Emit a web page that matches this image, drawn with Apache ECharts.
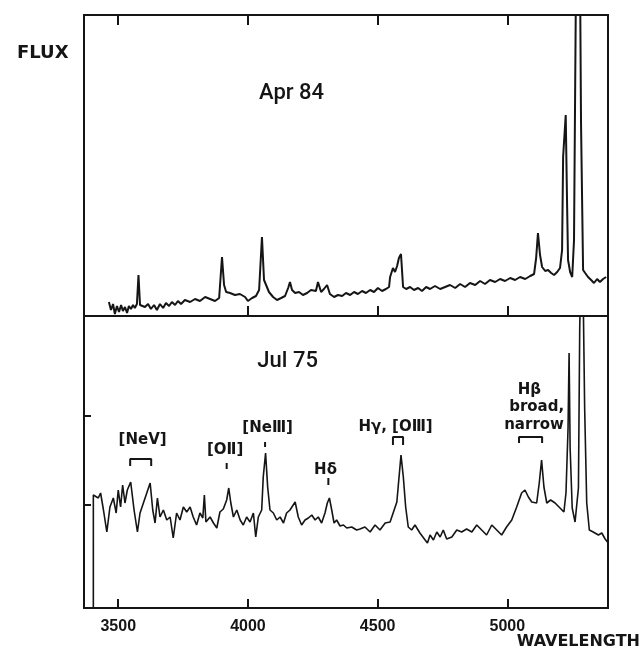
<!DOCTYPE html>
<html>
<head>
<meta charset="utf-8">
<script src="https://cdn.jsdelivr.net/npm/echarts@6/dist/echarts.min.js"></script>
<style>
  html, body { margin: 0; padding: 0; background: #fff; }
  #chart { width: 643px; height: 659px; }
</style>
</head>
<body>
<div id="chart"></div>
<script>
// Spectrum recorded April 1984 (wavelength in Å, relative flux)
const aprWavelength = [
  3464, 3472, 3480, 3487, 3495, 3503, 3511, 3518, 3526, 3534, 3541, 3549, 3557, 3564, 3572, 3578,
  3584, 3591, 3603, 3615, 3626, 3638, 3649, 3661, 3673, 3684, 3696, 3707, 3719, 3730, 3742, 3757,
  3777, 3796, 3815, 3835, 3854, 3873, 3889, 3900, 3908, 3916, 3931, 3950, 3969, 3989, 4000, 4016,
  4031, 4043, 4054, 4062, 4070, 4081, 4097, 4112, 4128, 4143, 4155, 4162, 4170, 4182, 4197, 4212,
  4228, 4243, 4262, 4270, 4282, 4293, 4305, 4316, 4332, 4347, 4363, 4378, 4394, 4409, 4424, 4440,
  4455, 4471, 4486, 4501, 4517, 4532, 4544, 4548, 4559, 4567, 4575, 4582, 4590, 4598, 4610, 4625,
  4640, 4656, 4671, 4687, 4702, 4721, 4741, 4760, 4779, 4799, 4818, 4837, 4856, 4876, 4895, 4914,
  4933, 4953, 4972, 4991, 5011, 5030, 5049, 5069, 5088, 5103, 5111, 5118, 5126, 5134, 5146, 5157,
  5169, 5180, 5192, 5203, 5211, 5215, 5225, 5230, 5234, 5242, 5250, 5257, 5265, 5280, 5284, 5292,
  5300, 5311, 5323, 5334, 5346, 5357, 5369, 5381
];
const aprFlux = [
  1.4, 0.6, 1.2, 0.2, 1.0, 0.4, 1.1, 0.5, 0.9, 0.3, 1.0, 0.7, 1.1, 0.8, 1.2, 4.1,
  1.1, 1.3, 0.9, 1.2, 0.7, 1.1, 0.6, 1.2, 0.8, 1.3, 1.0, 1.4, 1.1, 1.5, 1.2, 1.6,
  1.4, 1.7, 1.5, 1.9, 1.7, 1.5, 1.8, 5.9, 3.1, 2.4, 2.3, 2.1, 2.2, 1.9, 1.5, 1.8,
  2.0, 2.6, 7.9, 3.6, 3.1, 2.4, 1.9, 1.6, 1.8, 2.0, 2.8, 3.4, 2.6, 2.3, 2.4, 2.1,
  2.3, 2.6, 2.5, 3.4, 2.4, 2.7, 3.1, 2.2, 1.9, 2.1, 2.0, 2.3, 2.1, 2.4, 2.2, 2.5,
  2.3, 2.6, 2.4, 2.8, 2.5, 2.7, 2.9, 3.9, 4.8, 4.4, 5.0, 5.8, 6.2, 2.9, 2.7, 2.9,
  2.6, 2.8, 2.5, 2.9, 2.7, 3.0, 2.7, 2.9, 3.1, 2.8, 3.2, 2.9, 3.3, 3.1, 3.5, 3.2,
  3.6, 3.4, 3.7, 3.5, 3.8, 3.6, 3.9, 3.7, 4.0, 4.2, 5.8, 8.3, 6.1, 4.9, 4.5, 4.6,
  4.3, 4.1, 4.4, 4.8, 6.6, 15.9, 20.1, 11.6, 5.6, 4.4, 3.9, 7.6, 35.0, 35.0, 19.3, 4.6,
  4.3, 3.9, 3.6, 3.3, 3.7, 3.4, 3.7, 3.9
];

// Spectrum recorded July 1975
const julWavelength = [
  3404, 3404, 3411, 3423, 3432, 3443, 3456, 3468, 3481, 3492, 3500, 3509, 3517, 3526, 3535, 3548,
  3561, 3574, 3584, 3597, 3610, 3623, 3633, 3642, 3651, 3661, 3674, 3687, 3700, 3712, 3725, 3738,
  3751, 3764, 3777, 3789, 3802, 3815, 3826, 3832, 3838, 3854, 3867, 3880, 3892, 3905, 3918, 3926,
  3934, 3944, 3957, 3970, 3982, 3995, 4008, 4021, 4030, 4040, 4053, 4059, 4068, 4076, 4085, 4098,
  4111, 4124, 4137, 4149, 4162, 4182, 4194, 4207, 4220, 4233, 4246, 4259, 4271, 4284, 4297, 4306,
  4314, 4323, 4332, 4342, 4355, 4368, 4381, 4400, 4419, 4432, 4451, 4471, 4490, 4509, 4529, 4548,
  4561, 4574, 4581, 4590, 4599, 4608, 4618, 4631, 4644, 4663, 4683, 4692, 4702, 4715, 4728, 4741,
  4753, 4766, 4786, 4805, 4824, 4843, 4863, 4882, 4901, 4920, 4940, 4959, 4978, 4997, 5017, 5036,
  5055, 5068, 5081, 5094, 5113, 5123, 5132, 5141, 5152, 5167, 5184, 5203, 5218, 5226, 5234, 5238,
  5242, 5250, 5261, 5267, 5274, 5279, 5282, 5292, 5298, 5306, 5316, 5331, 5351, 5364, 5377, 5389
];
const julFlux = [
  0.0, 11.3, 11.5, 11.0, 11.5, 9.8, 7.6, 10.1, 11.0, 9.5, 11.8, 10.1, 12.3, 10.5, 11.8, 12.6,
  9.8, 7.6, 9.5, 10.5, 11.5, 12.5, 9.8, 8.5, 11.0, 9.1, 9.8, 8.8, 9.1, 7.0, 9.5, 8.8,
  10.1, 9.6, 10.1, 9.1, 8.3, 9.5, 9.0, 11.3, 8.6, 9.1, 8.5, 8.0, 9.6, 9.9, 10.8, 12.0,
  10.5, 9.1, 9.8, 8.8, 8.3, 9.1, 8.6, 9.5, 7.1, 9.1, 9.8, 13.1, 15.5, 12.1, 9.8, 9.5,
  8.8, 9.1, 8.5, 9.5, 9.8, 10.6, 9.1, 8.3, 8.8, 9.0, 9.3, 8.8, 9.1, 8.5, 9.5, 10.5,
  11.0, 9.8, 8.5, 8.8, 8.2, 8.3, 8.0, 8.1, 7.8, 7.9, 8.1, 7.6, 8.3, 7.8, 8.5, 8.6,
  9.6, 10.6, 10.8, 15.3, 13.1, 10.1, 8.1, 7.8, 8.3, 7.5, 6.8, 6.5, 7.3, 6.8, 7.6, 7.1,
  7.8, 6.9, 7.1, 7.8, 7.6, 7.9, 7.6, 8.3, 7.8, 7.3, 8.3, 7.8, 7.3, 8.1, 8.8, 10.1,
  11.5, 11.8, 11.1, 10.6, 10.5, 12.5, 14.8, 12.1, 10.5, 10.8, 10.5, 10.0, 9.6, 11.5, 18.0, 25.5,
  16.0, 10.0, 8.6, 8.5, 12.0, 28.0, 32.0, 32.0, 20.0, 10.5, 7.8, 7.6, 7.3, 7.5, 6.9, 6.5
];

// Axis marks
const tickWavelengths = [3500, 4000, 4500, 5000];
const julFluxMarks = [10.3, 19.2];

// Line identifications on the 1975 spectrum
const lineLabels = [
  { text: '[NeⅤ]', at: [3594, 16.8] },
  { text: '[OⅡ]', at: [3912, 15.8] },
  { text: '[NeⅢ]', at: [4076, 18.0] },
  { text: 'Hδ', at: [4299, 13.8] },
  { text: 'Hγ, [OⅢ]', at: [4569, 18.1] },
  { text: 'Hβ', at: [5085, 21.8] },
  { text: 'broad,', at: [5113, 20.1] },
  { text: 'narrow', at: [5103, 18.3] }
];
const brackets = [
  { from: 3546, to: 3627, top: 14.9, foot: 14.2 },
  { from: 4559, to: 4598, top: 17.1, foot: 16.3 },
  { from: 5045, to: 5134, top: 17.1, foot: 16.5 }
];
const lineMarks = [
  { at: 3918, from: 13.9, to: 14.5 },
  { at: 4066, from: 16.1, to: 16.6 },
  { at: 4310, from: 12.3, to: 13.0 }
];
const epochs = [
  { text: 'Apr 84', panel: 0, at: [4168, 22.3] },
  { text: 'Jul 75', panel: 1, at: [4153, 24.7] }
];

const ink = '#151515';
const zip = (xs, ys) => xs.map((x, i) => [x, ys[i]]);
const chart = echarts.init(document.getElementById('chart'), null, { renderer: 'canvas' });

const xBase = {
  type: 'value', min: 3368, max: 5388,
  splitLine: { show: false }, axisLine: { show: false }, axisLabel: { show: false }
};
const tickStyle = { color: ink, width: 2 };
const hiddenMark = { color: 'rgba(0,0,0,0)', opacity: 1 };

const series = [
  {
    type: 'line', xAxisIndex: 0, yAxisIndex: 0, data: zip(aprWavelength, aprFlux),
    symbol: 'none', clip: true, silent: true, lineStyle: { color: ink, width: 2 }, z: 3
  },
  {
    type: 'line', xAxisIndex: 2, yAxisIndex: 1, data: zip(julWavelength, julFlux),
    symbol: 'none', clip: true, silent: true, lineStyle: { color: ink, width: 1.6 }, z: 3
  }
];
brackets.forEach(b => series.push({
  type: 'line', xAxisIndex: 2, yAxisIndex: 1, symbol: 'none', silent: true,
  data: [[b.from, b.foot], [b.from, b.top], [b.to, b.top], [b.to, b.foot]],
  lineStyle: { color: ink, width: 2 }
}));
lineMarks.forEach(m => series.push({
  type: 'line', xAxisIndex: 2, yAxisIndex: 1, symbol: 'none', silent: true,
  data: [[m.at, m.from], [m.at, m.to]],
  lineStyle: { color: ink, width: 2 }
}));
series.push({
  type: 'scatter', xAxisIndex: 2, yAxisIndex: 1, symbolSize: 1, silent: true,
  itemStyle: hiddenMark,
  data: lineLabels.map(l => ({ value: l.at, name: l.text })),
  label: {
    show: true, position: 'inside', formatter: p => p.name, opacity: 1,
    fontFamily: 'DejaVu Sans', fontWeight: 'bold', fontSize: 15, color: ink
  }
});
epochs.forEach(e => series.push({
  type: 'scatter', xAxisIndex: e.panel === 0 ? 0 : 2, yAxisIndex: e.panel, symbolSize: 1, silent: true,
  itemStyle: hiddenMark,
  data: [{ value: e.at, name: e.text }],
  label: {
    show: true, position: 'inside', formatter: p => p.name, opacity: 1,
    fontFamily: 'Roboto', fontWeight: 500, fontSize: 22, color: ink
  }
}));

chart.setOption({
  animation: false,
  backgroundColor: '#ffffff',
  grid: [
    { left: 84, right: 35, top: 15, height: 301, show: true, borderColor: ink, borderWidth: 2 },
    { left: 84, right: 35, top: 316, height: 292, show: true, borderColor: ink, borderWidth: 2 }
  ],
  xAxis: [
    Object.assign({}, xBase, {
      gridIndex: 0, position: 'bottom',
      axisTick: { show: true, inside: true, length: 10, lineStyle: tickStyle, customValues: tickWavelengths.slice(1) }
    }),
    Object.assign({}, xBase, {
      gridIndex: 0, position: 'top',
      axisTick: { show: true, inside: true, length: 10, lineStyle: tickStyle, customValues: tickWavelengths }
    }),
    Object.assign({}, xBase, {
      gridIndex: 1, position: 'bottom',
      axisTick: { show: true, inside: true, length: 9, lineStyle: tickStyle, customValues: tickWavelengths },
      axisLabel: {
        show: true, customValues: tickWavelengths, margin: 11, formatter: v => String(v),
        fontFamily: 'Liberation Sans', fontWeight: 'bold', fontSize: 16, color: ink
      }
    })
  ],
  yAxis: [
    {
      type: 'value', gridIndex: 0, min: 0, max: 30.1,
      axisLine: { show: false }, axisTick: { show: false }, axisLabel: { show: false }, splitLine: { show: false }
    },
    {
      type: 'value', gridIndex: 1, min: 0, max: 29.2,
      axisLine: { show: false }, axisLabel: { show: false }, splitLine: { show: false },
      axisTick: { show: true, inside: true, length: 7, lineStyle: tickStyle, customValues: julFluxMarks }
    }
  ],
  graphic: [
    { type: 'text', left: 17, top: 44, style: { text: 'FLUX', font: 'bold 18px "DejaVu Sans"', fill: ink } },
    { type: 'text', right: 3, top: 634, style: { text: 'WAVELENGTH', font: 'bold 16px "DejaVu Sans"', fill: ink } }
  ],
  series: series
});
</script>
</body>
</html>
